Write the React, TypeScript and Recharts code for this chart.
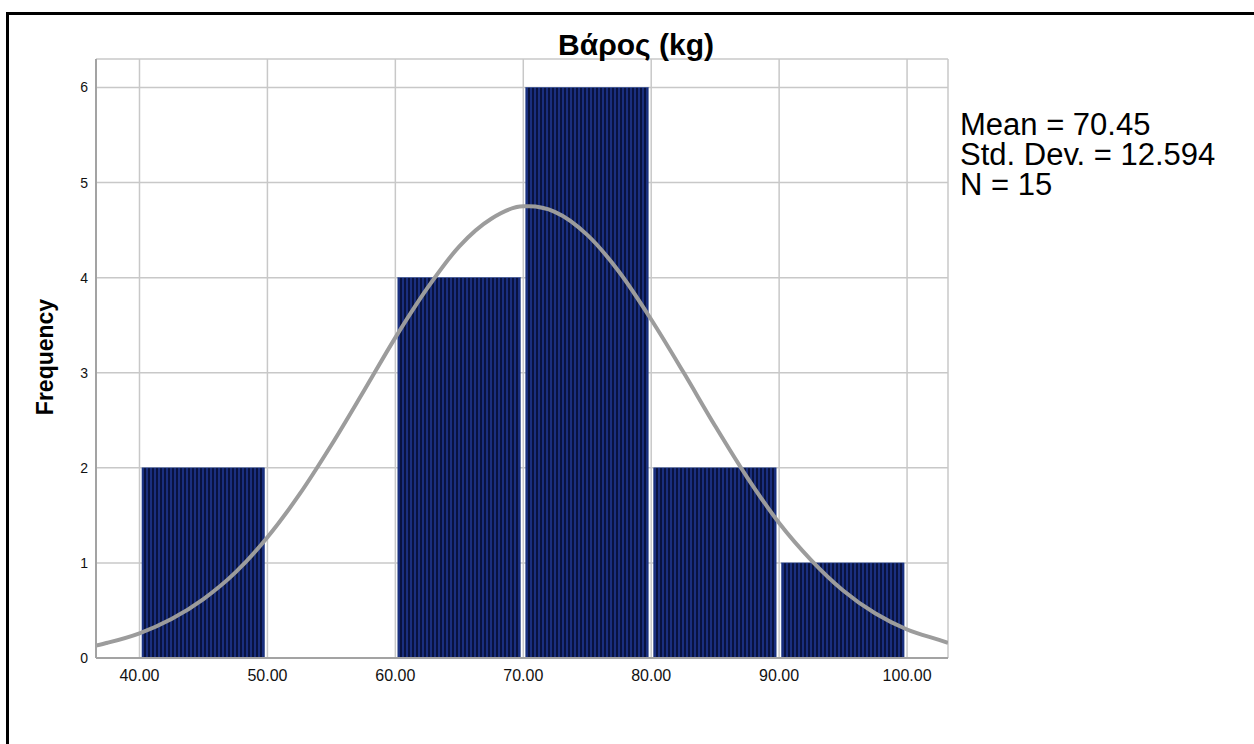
import { ComposedChart, Line, XAxis, YAxis, CartesianGrid, ReferenceArea } from 'recharts';

// histogram bins (kg) and their counts
const binStarts = [40, 50, 60, 70, 80, 90];
const binEnds = [50, 60, 70, 80, 90, 100];
const counts = [2, 0, 4, 6, 2, 1];

// fitted normal curve, sampled along the axis
const curveX = [36.6, 37.5, 40, 42.5, 45, 47.5, 50, 52.5, 55, 57.5, 60, 62.5, 65, 67.5, 70, 70.45, 72.5, 75, 77.5, 80, 82.5, 85, 87.5, 90, 92.5, 95, 97.5, 100, 102.5, 103.2];
const curveY = [0.13, 0.16, 0.26, 0.41, 0.62, 0.9, 1.27, 1.72, 2.24, 2.8, 3.37, 3.89, 4.33, 4.62, 4.75, 4.75, 4.69, 4.45, 4.06, 3.56, 3.01, 2.44, 1.9, 1.42, 1.03, 0.71, 0.47, 0.3, 0.19, 0.16];

const xTicks = [40, 50, 60, 70, 80, 90, 100];
const yTicks = [0, 1, 2, 3, 4, 5, 6];

const statLines = ['Mean = 70.45', 'Std. Dev. = 12.594', 'N = 15'];

const curveData = curveX.map((x, i) => ({ x, y: curveY[i] }));

const FONT = '"Liberation Sans", Arial, sans-serif';

function StripedBar(props: any) {
  const { x, y, width, height } = props;
  if (!height || height <= 0) return null;
  return (
    <g>
      <defs>
        <pattern id="barStripes" patternUnits="userSpaceOnUse" width={4} height={10}>
          <rect x={0} y={0} width={4} height={10} fill="#09133f" />
          <rect x={2} y={0} width={2} height={10} fill="#1a2f7e" />
        </pattern>
      </defs>
      <rect x={x + 2.5} y={y} width={width - 5.5} height={height} fill="url(#barStripes)" stroke="#23408f" strokeWidth={0.6} />
    </g>
  );
}

export default function App() {
  return (
    <div style={{ position: 'absolute', left: 0, top: 0, width: 1254, height: 744, background: '#fff', overflow: 'hidden', fontFamily: FONT }}>
      <div style={{ position: 'absolute', left: 6, top: 12, width: 1400, height: 900, border: '3px solid #000' }} />
      <div style={{ position: 'absolute', left: 0, top: 0 }}>
        <ComposedChart width={1254} height={744} data={curveData} margin={{ top: 59, right: 306, bottom: 46, left: 36 }}>
          <CartesianGrid stroke="#c8c8c8" strokeWidth={1.5} />
          <XAxis
            dataKey="x"
            type="number"
            domain={[36.6, 103.2]}
            allowDataOverflow
            ticks={xTicks}
            tickFormatter={(v: number) => v.toFixed(2)}
            tickLine={false}
            tickMargin={6}
            height={40}
            axisLine={{ stroke: '#a3a3a3', strokeWidth: 2 }}
            tick={{ fill: '#111', fontSize: 16, fontFamily: FONT }}
          />
          <YAxis
            type="number"
            domain={[0, 6.3]}
            allowDataOverflow
            ticks={yTicks}
            tickLine={false}
            width={60}
            axisLine={{ stroke: '#a3a3a3', strokeWidth: 2 }}
            tick={{ fill: '#111', fontSize: 14, fontFamily: FONT }}
          />
          {binStarts.map((start, i) =>
            counts[i] > 0 ? (
              <ReferenceArea key={start} x1={start} x2={binEnds[i]} y1={0} y2={counts[i]} shape={StripedBar} ifOverflow="visible" />
            ) : null
          )}
          <Line dataKey="y" type="monotone" stroke="#9c9c9c" strokeWidth={4} dot={false} activeDot={false} isAnimationActive={false} />
        </ComposedChart>
      </div>
      <svg width={1254} height={744} style={{ position: 'absolute', left: 0, top: 0, pointerEvents: 'none' }}>
        <text x={636} y={55} textAnchor="middle" fontSize={30} fontWeight="bold" fontFamily={FONT} fill="#000">
          Βάρος (kg)
        </text>
        <text transform="translate(53,357) rotate(-90)" textAnchor="middle" fontSize={23} fontWeight="bold" fontFamily={FONT} fill="#000">
          Frequency
        </text>
        {statLines.map((s, i) => (
          <text key={s} x={960} y={135 + i * 30} fontSize={31} fontFamily={FONT} fill="#000">
            {s}
          </text>
        ))}
      </svg>
    </div>
  );
}
